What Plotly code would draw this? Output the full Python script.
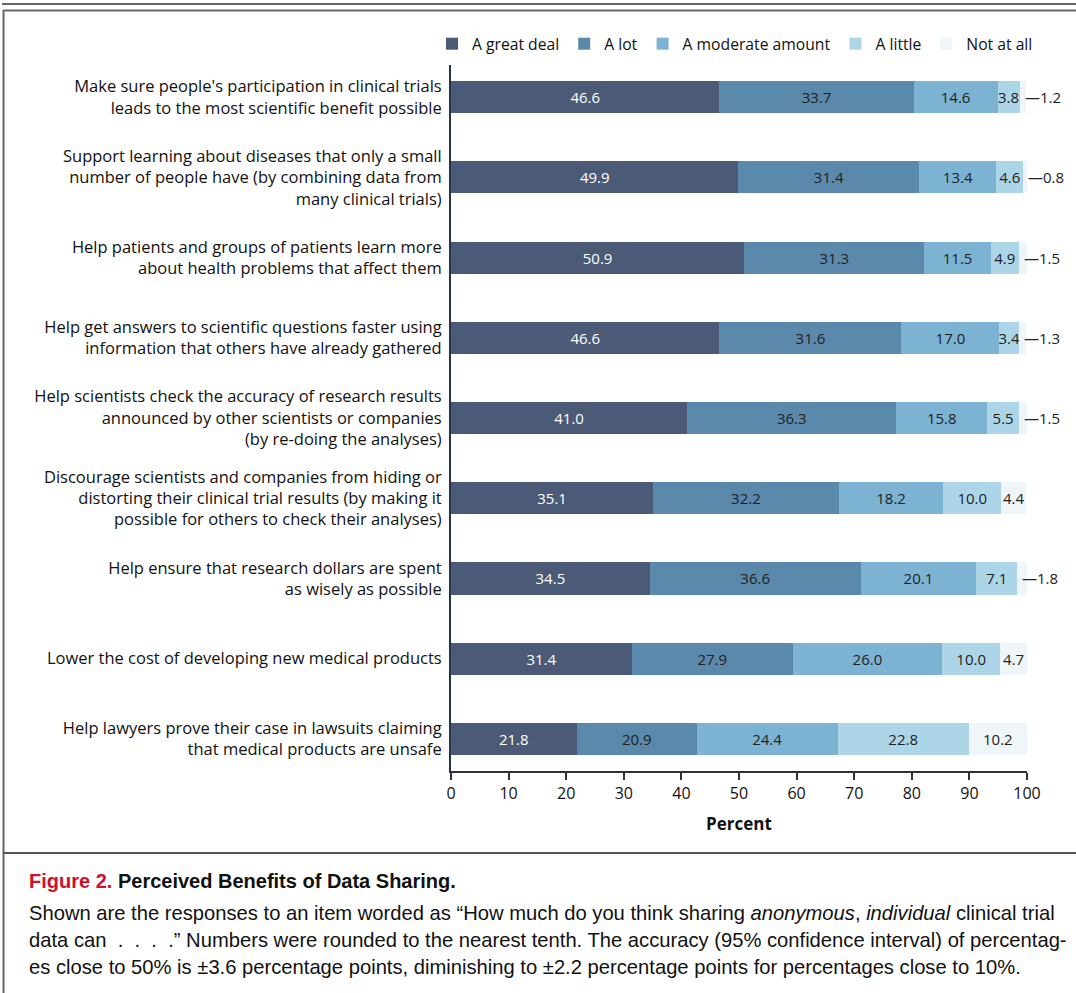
import plotly.graph_objects as go

categories = [
    "Make sure people's participation in clinical trials<br>leads to the most scientific benefit possible",
    "Support learning about diseases that only a small<br>number of people have (by combining data from<br>many clinical trials)",
    "Help patients and groups of patients learn more<br>about health problems that affect them",
    "Help get answers to scientific questions faster using<br>information that others have already gathered",
    "Help scientists check the accuracy of research results<br>announced by other scientists or companies<br>(by re-doing the analyses)",
    "Discourage scientists and companies from hiding or<br>distorting their clinical trial results (by making it<br>possible for others to check their analyses)",
    "Help ensure that research dollars are spent<br>as wisely as possible",
    "Lower the cost of developing new medical products",
    "Help lawyers prove their case in lawsuits claiming<br>that medical products are unsafe",
]
series_names = ["A great deal", "A lot", "A moderate amount", "A little", "Not at all"]
great_deal = [46.6, 49.9, 50.9, 46.6, 41.0, 35.1, 34.5, 31.4, 21.8]
a_lot = [33.7, 31.4, 31.3, 31.6, 36.3, 32.2, 36.6, 27.9, 20.9]
moderate = [14.6, 13.4, 11.5, 17.0, 15.8, 18.2, 20.1, 26.0, 24.4]
a_little = [3.8, 4.6, 4.9, 3.4, 5.5, 10.0, 7.1, 10.0, 22.8]
not_at_all = [1.2, 0.8, 1.5, 1.3, 1.5, 4.4, 1.8, 4.7, 10.2]
x_ticks = [0, 10, 20, 30, 40, 50, 60, 70, 80, 90, 100]

colors = ["#4b5a76", "#5b89ab", "#7cb3d3", "#acd5e8", "#eef6fa"]
text_colors = ["#ffffff", "#222222", "#222222", "#222222", "#222222"]
FONT = "'Open Sans', Lato, sans-serif"
CAP_FONT = "'Liberation Sans', Arial, sans-serif"

W, H = 1076, 993
L, R, T, B = 451, 49, 65, 222
PW, PH = W - L - R, H - T - B


def px2x(px):
    return (px - L) / PW


def py2y(py):
    return (H - B - py) / PH


fig = go.Figure()
all_series = [great_deal, a_lot, moderate, a_little, not_at_all]
for i, (name, vals) in enumerate(zip(series_names, all_series)):
    show_text = i < 4
    fig.add_trace(go.Bar(
        y=categories, x=vals, name=name, orientation="h",
        marker=dict(color=colors[i], line=dict(width=0)),
        width=0.4,
        text=[f"{v:.1f}" for v in vals] if show_text else None,
        textposition="inside" if show_text else "none",
        insidetextanchor="middle",
        textangle=0,
        constraintext="none",
        textfont=dict(family=FONT, size=15, color=text_colors[i]),
        hoverinfo="skip",
    ))

# labels for "Not at all"
annotations = []
for j, cat in enumerate(categories):
    before = great_deal[j] + a_lot[j] + moderate[j] + a_little[j]
    v = not_at_all[j]
    if v < 3:
        annotations.append(dict(x=before, y=cat, xref="x", yref="y",
                                text=f"\u2014{v:.1f}", showarrow=False,
                                xanchor="left", xshift=3,
                                font=dict(family=FONT, size=15, color="#222222")))
    else:
        annotations.append(dict(x=before + v / 2, y=cat, xref="x", yref="y",
                                text=f"{v:.1f}", showarrow=False,
                                xanchor="center",
                                font=dict(family=FONT, size=15, color="#222222")))

# caption
annotations.append(dict(
    x=px2x(27), y=py2y(881), xref="paper", yref="paper", xanchor="left", yanchor="middle",
    showarrow=False,
    text="<span style='color:#d0112b'><b>Figure 2.</b></span> <b>Perceived Benefits of Data Sharing.</b>",
    font=dict(family=CAP_FONT, size=20, color="#111111")))
cap_lines = [
    "Shown are the responses to an item worded as \u201cHow much do you think sharing <i>anonymous</i>, <i>individual</i> clinical trial",
    "data can  .  .  .  .\u201d Numbers were rounded to the nearest tenth. The accuracy (95% confidence interval) of percentag-",
    "es close to 50% is \u00b13.6 percentage points, diminishing to \u00b12.2 percentage points for percentages close to 10%.",
]
for k, line in enumerate(cap_lines):
    annotations.append(dict(
        x=px2x(27), y=py2y(913 + k * 27), xref="paper", yref="paper",
        xanchor="left", yanchor="middle", showarrow=False, text=line,
        font=dict(family=CAP_FONT, size=20.2, color="#111111")))

# frame lines
shapes = [
    dict(type="line", xref="paper", yref="paper", x0=px2x(2), x1=px2x(1076), y0=py2y(4), y1=py2y(4),
         line=dict(color="#666666", width=2)),
    dict(type="line", xref="paper", yref="paper", x0=px2x(3), x1=px2x(1076), y0=py2y(10.5), y1=py2y(10.5),
         line=dict(color="#666666", width=2)),
    dict(type="line", xref="paper", yref="paper", x0=px2x(3.5), x1=px2x(3.5), y0=py2y(10), y1=py2y(993),
         line=dict(color="#666666", width=2)),
    dict(type="line", xref="paper", yref="paper", x0=px2x(3), x1=px2x(1076), y0=py2y(853), y1=py2y(853),
         line=dict(color="#555555", width=2)),
]

fig.update_layout(
    width=W, height=H,
    margin=dict(l=L, r=R, t=T, b=B, autoexpand=False),
    barmode="stack",
    paper_bgcolor="white", plot_bgcolor="white",
    showlegend=True,
    legend=dict(orientation="h", x=px2x(432), xanchor="left", y=py2y(44), yanchor="middle",
                font=dict(family=FONT, size=15.7, color="#111111"), bgcolor="rgba(0,0,0,0)",
                traceorder="normal"),
    xaxis=dict(range=[0, 100], tickvals=x_ticks, ticktext=[str(t) for t in x_ticks],
               showgrid=False, zeroline=False, showline=True, linecolor="#333333", linewidth=1.5,
               ticks="outside", ticklen=7, tickwidth=1.5, tickcolor="#333333",
               tickfont=dict(family=FONT, size=16, color="#111111"),
               title=dict(text="<b>Percent</b>", font=dict(family=FONT, size=17, color="#111111"),
                          standoff=15)),
    yaxis=dict(type="category", categoryorder="array", categoryarray=categories,
               range=[8.4, -0.4], showgrid=False, zeroline=False,
               showline=True, linecolor="#27324b", linewidth=2, ticks="",
               ticklabelstandoff=4,
               tickfont=dict(family=FONT, size=16.5, color="#111111")),
    annotations=annotations,
    shapes=shapes,
)

fig.write_html("out.html")
